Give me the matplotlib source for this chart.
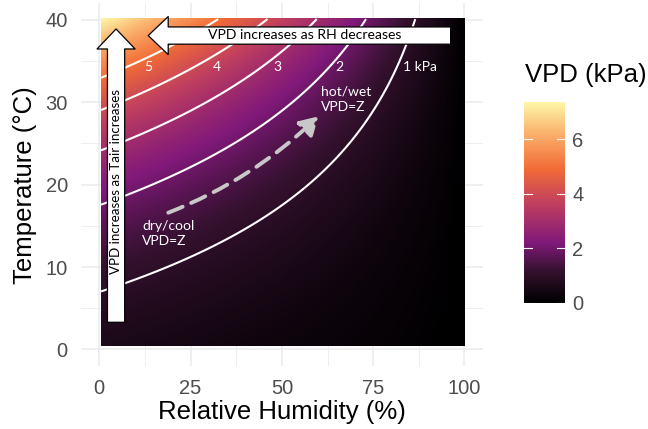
import numpy as np
import matplotlib.pyplot as plt
from matplotlib.ticker import MultipleLocator
from matplotlib.colors import LinearSegmentedColormap

# grid of relative humidity (%) and air temperature (degC)
rh = np.linspace(0.5, 100, 400)
temp = np.linspace(0.4, 40.1, 320)

# contour levels and their labels (kPa)
levels = [1, 2, 3, 4, 5]
level_labels = ["5", "4", "3", "2", "1 kPa"]
label_x = [13.4, 32.2, 48.9, 65.8, 87.7]
label_y = 34.3

x_ticks = [0, 25, 50, 75, 100]
y_ticks = [0, 10, 20, 30, 40]
cbar_ticks = [0, 2, 4, 6]

# colour ramp
ramp_pos = [0.0, 0.16, 0.30, 0.50, 0.67, 0.85, 1.0]
ramp_col = ["#000000", "#35112f", "#81197a", "#c2405e", "#f26c36", "#fbb36e", "#fdf7a8"]


def vpd_kpa(t, h):
    # Tetens equation for saturation vapour pressure
    es = 0.6108 * np.exp(17.27 * t / (t + 237.3))
    return es * (1 - h / 100)


cmap = LinearSegmentedColormap.from_list("vpd", list(zip(ramp_pos, ramp_col)))

RH, T = np.meshgrid(rh, temp)
vpd = vpd_kpa(T, RH)
vmax = vpd_kpa(40.0, 0.0)

fig = plt.figure(figsize=(6.48, 4.29), dpi=100)
ax = fig.add_axes([0.125, 0.147, 0.62, 0.845])

im = ax.imshow(vpd, origin="lower", cmap=cmap, vmin=0, vmax=vmax,
               extent=[rh[0], rh[-1], temp[0], temp[-1]], aspect="auto",
               interpolation="bilinear", zorder=1)
ax.contour(rh, temp, vpd, levels=levels, colors="white", linewidths=1.5, zorder=2)

ax.set_xlim(-5, 105)
ax.set_ylim(-2, 42)
ax.set_xticks(x_ticks)
ax.set_yticks(y_ticks)
ax.xaxis.set_minor_locator(MultipleLocator(12.5))
ax.yaxis.set_minor_locator(MultipleLocator(5))
ax.set_axisbelow(True)
ax.grid(which="major", color="#ebebeb", lw=1.1)
ax.grid(which="minor", color="#ebebeb", lw=0.6)
for s in ax.spines.values():
    s.set_visible(False)
ax.tick_params(which="both", length=0, labelsize=14.5, labelcolor="#4d4d4d",
               pad=9.5)
for lab in ax.get_xticklabels() + ax.get_yticklabels():
    lab.set_fontfamily("Liberation Sans")
ax.set_xlabel("Relative Humidity (%)", fontsize=18.5, family="Liberation Sans", labelpad=1)
ax.set_ylabel("Temperature (°C)", fontsize=18.5, family="Liberation Sans", labelpad=6)

# contour labels
for lx, lt in zip(label_x, level_labels):
    ax.text(lx, label_y, lt, color="white", fontsize=10, family="Lato",
            ha="center", va="center", zorder=4)

ax.text(60.7, 30.4, "hot/wet\nVPD=Z", color="white", fontsize=10, family="Lato",
        ha="left", va="center", linespacing=1.3, zorder=4)
ax.text(11.7, 14.1, "dry/cool\nVPD=Z", color="white", fontsize=10, family="Lato",
        ha="left", va="center", linespacing=1.3, zorder=4)

# dashed grey arrow from dry/cool to hot/wet
ax.annotate("", xy=(60.0, 28.3), xytext=(18.9, 16.6),
            arrowprops=dict(arrowstyle="-|>,head_length=0.6,head_width=0.35",
                            mutation_scale=18, color="#c8c8c8", lw=2.8,
                            linestyle=(0, (4, 2.4)), shrinkA=0, shrinkB=0,
                            connectionstyle="arc3,rad=0.1"), zorder=4)

# big white block arrows
block = "simple,head_length=14.4,head_width=27.4,tail_width=12.4"
ax.annotate("", xy=(4.6, 38.9), xytext=(4.6, 3.3),
            arrowprops=dict(arrowstyle=block, mutation_scale=1, fc="white",
                            ec="black", lw=0.9, shrinkA=0, shrinkB=0), zorder=5)
ax.annotate("", xy=(13.4, 38.1), xytext=(96.2, 38.1),
            arrowprops=dict(arrowstyle=block, mutation_scale=1, fc="white",
                            ec="black", lw=0.9, shrinkA=0, shrinkB=0), zorder=5)
ax.text(4.6, 20.4, "VPD increases as Tair increases", rotation=90,
        fontsize=9.6, family="Lato", ha="center", va="center", zorder=6)
ax.text(56.3, 38.15, "VPD increases as RH decreases", fontsize=10.1,
        family="Lato", ha="center", va="center", zorder=6)

# colour bar
cax = fig.add_axes([0.809, 0.294, 0.063, 0.4685])
cb = fig.colorbar(im, cax=cax, ticks=cbar_ticks)
cb.outline.set_visible(False)
cax.tick_params(length=0, labelsize=14.5, labelcolor="#4d4d4d", pad=5)
for lab in cax.get_yticklabels():
    lab.set_fontfamily("Liberation Sans")
for t in cbar_ticks:
    cax.plot([0, 0.2], [t, t], color="white", lw=0.8, transform=cax.get_yaxis_transform())
    cax.plot([0.8, 1.0], [t, t], color="white", lw=0.8, transform=cax.get_yaxis_transform())
fig.text(0.81, 0.825, "VPD (kPa)", fontsize=18.5, family="Liberation Sans",
         ha="left", va="center")

fig.savefig("out.png", dpi=100)
